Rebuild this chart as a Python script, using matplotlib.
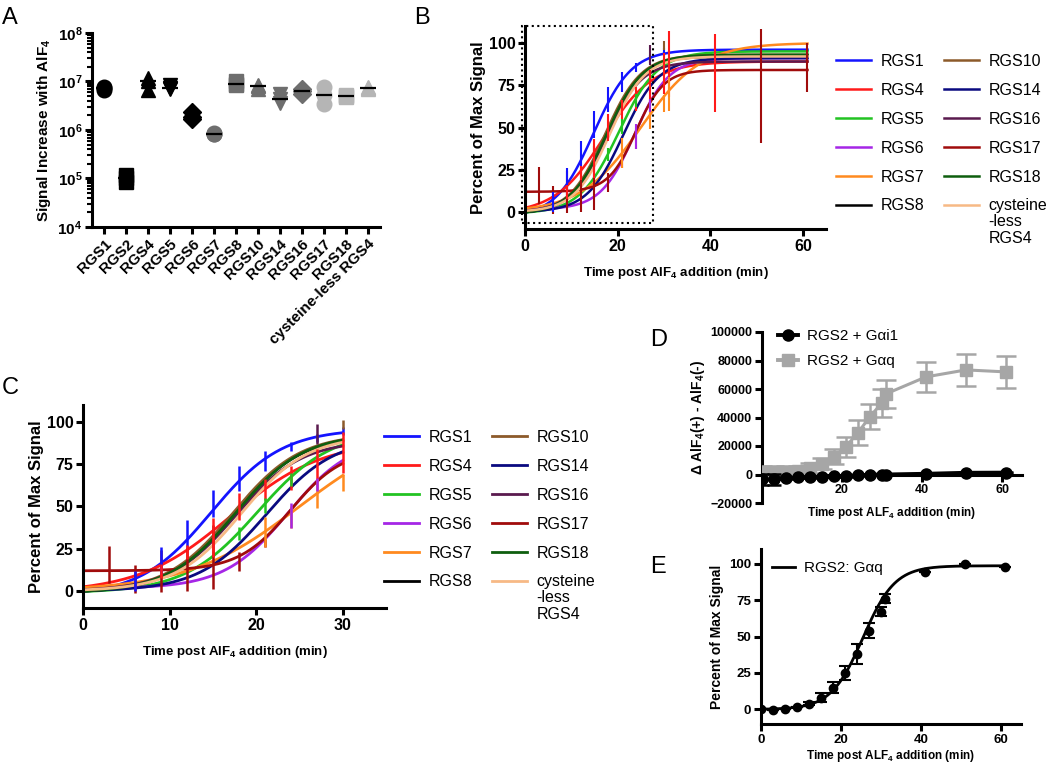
import numpy as np
import matplotlib
matplotlib.use('Agg')
import matplotlib.pyplot as plt
from matplotlib import font_manager as fm
from matplotlib.patches import Rectangle
from matplotlib.lines import Line2D
from matplotlib.ticker import LogLocator, NullFormatter


# pick an Arial-like family that really has a bold face
def pick_family():
    for f in ['Liberation Sans', 'Arimo', 'Roboto', 'Noto Sans', 'Open Sans']:
        try:
            p = fm.findfont(fm.FontProperties(family=f, weight='bold'), fallback_to_default=False)
            if 'bold' in p.lower():
                return f
        except Exception:
            pass
    return 'DejaVu Sans'


FAM = pick_family()
plt.rcParams['font.family'] = [FAM, 'DejaVu Sans']
plt.rcParams['font.weight'] = 'bold'
plt.rcParams['mathtext.fontset'] = 'custom'
plt.rcParams['mathtext.rm'] = FAM + ':bold'
plt.rcParams['mathtext.it'] = FAM + ':bold'
plt.rcParams['mathtext.bf'] = FAM + ':bold'
plt.rcParams['mathtext.default'] = 'rm'

# ---- Panel A: signal increase per RGS (3 replicates) ----
cats_a = ['RGS1', 'RGS2', 'RGS4', 'RGS5', 'RGS6', 'RGS7', 'RGS8', 'RGS10',
          'RGS14', 'RGS16', 'RGS17', 'RGS18', 'cysteine-less RGS4']
rep1 = [6.8e6, 8.5e4, 6.6e6, 7.0e6, 1.7e6, 8.2e5, 8.3e6, 7.0e6, 3.6e6, 5.6e6, 3.5e6, 4.8e6, 7.1e6]
rep2 = [7.3e6, 1.0e5, 1.0e7, 7.3e6, 1.85e6, 8.4e5, 8.9e6, 8.1e6, 4.4e6, 6.3e6, 5.3e6, 5.0e6, 7.4e6]
rep3 = [7.6e6, 1.2e5, 1.2e7, 8.3e6, 2.3e6, 8.6e5, 1.0e7, 8.6e6, 5.5e6, 7.0e6, 7.7e6, 5.3e6, 7.6e6]
markers_a = ['o', 's', '^', 'v', 'D', 'o', 's', '^', 'v', 'D', 'o', 's', '^']
colors_a = ['#000000'] * 5 + ['#6e6e6e'] * 5 + ['#b5b5b5'] * 3

# ---- Panels B/C: sigmoid fits per RGS ----
rgs_names = ['RGS1', 'RGS4', 'RGS5', 'RGS6', 'RGS7', 'RGS8',
             'RGS10', 'RGS14', 'RGS16', 'RGS17', 'RGS18', 'cysteine']
rgs_colors = ['#1414ff', '#ff1a1a', '#22c322', '#a526e6', '#ff8a1f', '#000000',
              '#8c5a2a', '#0a0a80', '#5a1a4e', '#a00c0c', '#0e5e0e', '#f7b985']
fit_bottom = [-3, -1, -1, 1.5, 0, -1, -1, 0, 0, 12, -1, 0]
fit_top = [96, 89, 95, 91, 100, 92, 93, 91, 89, 84, 93, 92]
fit_t50 = [14.8, 17.0, 20.2, 23.7, 25.0, 17.5, 17.3, 21.2, 17.6, 24.0, 17.6, 18.3]
fit_k = [4.1, 5.3, 4.2, 3.7, 6.5, 3.8, 3.9, 3.9, 3.8, 3.0, 3.9, 3.8]

# error bars: series index, time, low, high
eb_series = [9, 9, 9, 9, 9, 9, 9, 9, 9, 9,
             0, 0, 0, 0, 0, 0, 0, 0, 0,
             1, 1, 1, 1, 1, 1, 1, 1, 1, 1, 1,
             2, 2, 2, 4, 4, 4, 4, 4, 3, 3, 8, 6]
eb_time = [0, 3, 6, 9, 12, 15, 18, 21, 51, 61,
           6, 9, 12, 15, 18, 21, 24, 27, 30,
           0, 9, 12, 15, 18, 21, 24, 27, 30, 31, 41,
           18, 21, 24, 21, 24, 27, 30, 31, 24, 27, 27, 30]
eb_lo = [-2, 4.5, -1, -0.5, 0, 1, 12, 26, 41, 71,
         0, 10, 26, 44, 59, 71, 83, 88, 92,
         0, 8, 19, 20, 42, 54, 60, 65, 70, 68, 59,
         30, 46, 62, 26, 37, 49, 59, 60, 37, 59, 87, 96]
eb_hi = [35, 26.5, 15.5, 24.5, 26, 39, 23, 31, 108, 100,
         12, 26, 42, 60, 74, 83, 88, 93, 97,
         8, 16, 27, 43, 58, 66, 74, 84, 94, 107, 105,
         38, 55, 70, 44, 50, 66, 69, 80, 52, 67, 99, 101]

# ---- Panel D: raw delta signal for RGS2 ----
d_time = [0, 3, 6, 9, 12, 15, 18, 21, 24, 27, 30, 31, 41, 51, 61]
gi1_mean = [-3500, -3500, -2500, -2000, -1800, -1600, -1400, -1000, -500, -200, 0, 0, 500, 1200, 1300]
gi1_err = [3700, 3700, 800, 500, 500, 500, 500, 500, 500, 500, 500, 500, 500, 500, 500]
gq_mean = [1000, 1500, 2100, 2800, 4900, 7700, 12600, 19600, 29400, 40600, 50300, 56600, 68500, 73400, 72000]
gq_err = [5000, 4500, 4000, 3500, 3500, 4000, 5000, 7000, 8500, 9000, 10000, 10000, 10500, 11000, 11000]

# ---- Panel E: normalised RGS2:Gaq ----
e_mean = [0, -0.5, 0.5, 1.5, 4, 8, 15, 25, 38, 54, 67, 76, 94, 100, 98]
e_err = [0, 0, 0, 0, 1, 3, 4, 5, 7, 5, 3, 3, 0, 0, 0]
e_fit = dict(bottom=0, top=98.5, t50=25.5, k=4.0)


def logistic(t, bottom, top, t50, k):
    return bottom + (top - bottom) / (1 + np.exp(-(t - t50) / k))


W, H = 1050, 763


def rect(l, t, r, b):
    return [l / W, 1 - b / H, (r - l) / W, (b - t) / H]


def style(ax, size=11):
    for s in ['top', 'right']:
        ax.spines[s].set_visible(False)
    for s in ['left', 'bottom']:
        ax.spines[s].set_linewidth(2.2)
    ax.tick_params(which='major', width=2.2, length=5, labelsize=size, pad=2)
    for lab in ax.get_xticklabels() + ax.get_yticklabels():
        lab.set_fontweight('bold')


def rgs_legend(ax, x, y):
    return ax.legend(loc='upper left', bbox_to_anchor=(x / W, 1 - y / H), bbox_transform=fig.transFigure,
                     ncol=2, frameon=False, borderpad=0, borderaxespad=0, handlelength=2.2,
                     handletextpad=0.6, columnspacing=1.2, labelspacing=0.87,
                     prop={'weight': 'normal', 'size': 11.5})


fig = plt.figure(figsize=(10.5, 7.63), dpi=100)

# panel letters
for letter, x, y in [('A', 2, 24), ('B', 414, 24), ('C', 2, 394), ('D', 650, 346), ('E', 650, 573)]:
    fig.text(x / W, 1 - y / H, letter, fontsize=17, fontweight='normal', va='baseline')

# ---------- A ----------
axA = fig.add_axes(rect(92, 33, 380, 227))
xa = np.arange(len(cats_a))
for i in range(len(cats_a)):
    vals = [rep1[i], rep2[i], rep3[i]]
    ms = 9 if markers_a[i] == 'D' else 10.5
    axA.plot([xa[i]] * 3, vals, ls='none', marker=markers_a[i], ms=ms,
             color=colors_a[i], mec=colors_a[i])
    axA.hlines(np.median(vals), xa[i] - 0.35, xa[i] + 0.35, color='k', lw=1.6, zorder=4)
axA.set_yscale('log')
axA.set_ylim(1e4, 1e8)
axA.set_xlim(-0.55, 12.55)
axA.yaxis.set_major_locator(LogLocator(base=10, numticks=10))
axA.yaxis.set_minor_locator(LogLocator(base=10, subs=np.arange(2, 10), numticks=10))
axA.yaxis.set_minor_formatter(NullFormatter())
axA.set_xticks(xa)
axA.set_xticklabels(cats_a, rotation=45, ha='right', rotation_mode='anchor', fontsize=11)
style(axA, 11)
axA.tick_params(axis='x', labelsize=11)
axA.tick_params(which='minor', width=1.5, length=3.5)
axA.set_ylabel('Signal Increase with AlF$_4$', fontsize=11, fontweight='bold', labelpad=3)

# ---------- B ----------
axB = fig.add_axes(rect(525, 26, 826, 229))
tb = np.linspace(0, 61, 400)
for i in range(len(rgs_names)):
    axB.plot(tb, logistic(tb, fit_bottom[i], fit_top[i], fit_t50[i], fit_k[i]),
             color=rgs_colors[i], lw=1.8, label=rgs_names[i])
axB.vlines(eb_time, eb_lo, eb_hi, colors=[rgs_colors[i] for i in eb_series], lw=1.5)
axB.add_patch(Rectangle((-0.6, -6.5), 28.3, 116.5, fill=False, ls=':', lw=1.5,
                        ec='k', clip_on=False, zorder=5))
axB.set_xlim(0, 65)
axB.set_ylim(-10, 110)
axB.set_xticks([0, 20, 40, 60])
axB.set_yticks([0, 25, 50, 75, 100])
style(axB, 11.5)
axB.set_xlabel('Time post AlF$_4$ addition (min)', fontsize=9.5, fontweight='bold', labelpad=8)
axB.set_ylabel('Percent of Max Signal', fontsize=12, fontweight='bold', labelpad=2)
legB = rgs_legend(axB, 836, 54)

# ---------- C ----------
axC = fig.add_axes(rect(83, 405, 386, 608))
tc = np.linspace(0, 30, 300)
for i in range(len(rgs_names)):
    axC.plot(tc, logistic(tc, fit_bottom[i], fit_top[i], fit_t50[i], fit_k[i]),
             color=rgs_colors[i], lw=2.0, label=rgs_names[i])
c_idx = [j for j in range(len(eb_time)) if eb_time[j] <= 30]
axC.vlines([eb_time[j] for j in c_idx], [eb_lo[j] for j in c_idx], [eb_hi[j] for j in c_idx],
           colors=[rgs_colors[eb_series[j]] for j in c_idx], lw=1.8)
axC.set_xlim(0, 35)
axC.set_ylim(-10, 110)
axC.set_xticks([0, 10, 20, 30])
axC.set_yticks([0, 25, 50, 75, 100])
style(axC, 11.5)
axC.set_xlabel('Time post AlF$_4$ addition (min)', fontsize=9.5, fontweight='bold', labelpad=8)
axC.set_ylabel('Percent of Max Signal', fontsize=12, fontweight='bold', labelpad=2)
legC = rgs_legend(axC, 384, 430)

# ---------- D ----------
axD = fig.add_axes(rect(762, 332, 1022, 503))
axD.spines['bottom'].set_position(('data', 0))
axD.errorbar(d_time, gq_mean, yerr=gq_err, color='#a6a6a6', marker='s', ms=8, lw=2.2,
             elinewidth=1.8, capsize=7, capthick=1.8, zorder=3)
axD.errorbar(d_time, gi1_mean, yerr=gi1_err, color='k', marker='o', ms=8, lw=2.8,
             elinewidth=1.8, capsize=5, capthick=1.8, zorder=4)
axD.set_xlim(0, 65)
axD.set_ylim(-20000, 100000)
axD.set_xticks([20, 40, 60])
axD.set_yticks(np.arange(-20000, 100001, 20000))
style(axD, 9)
axD.set_xlabel('Time post ALF$_4$ addition (min)', fontsize=8.5, fontweight='bold', labelpad=3)
axD.xaxis.set_label_coords(0.5, -0.01)
axD.set_ylabel('\u0394 AlF$_4$(+) - AlF$_4$(-)', fontsize=10, fontweight='bold', labelpad=2)
d_handles = [Line2D([], [], color='k', marker='o', ms=8, lw=2.8),
             Line2D([], [], color='#a6a6a6', marker='s', ms=8, lw=2.8)]
axD.legend(d_handles, ['RGS2 + G\u03b1i1', 'RGS2 + G\u03b1q'], loc='upper left',
           bbox_to_anchor=(778 / W, 1 - 329 / H), bbox_transform=fig.transFigure,
           frameon=False, borderpad=0, borderaxespad=0, handlelength=1.3,
           handletextpad=0.6, labelspacing=0.75, prop={'weight': 'normal', 'size': 11})

# ---------- E ----------
axE = fig.add_axes(rect(761, 549, 1021, 724))
te = np.linspace(0, 61, 400)
axE.plot(te, logistic(te, **e_fit), color='k', lw=2)
axE.errorbar(d_time, e_mean, yerr=e_err, color='k', marker='o', ms=6, ls='none',
             elinewidth=1.5, capsize=4, capthick=1.5)
axE.set_xlim(0, 65)
axE.set_ylim(-10, 110)
axE.set_xticks([0, 20, 40, 60])
axE.set_yticks([0, 25, 50, 75, 100])
style(axE, 9.5)
axE.set_xlabel('Time post ALF$_4$ addition (min)', fontsize=8.5, fontweight='bold', labelpad=2)
axE.set_ylabel('Percent of Max Signal', fontsize=10, fontweight='bold', labelpad=4)
axE.legend([Line2D([], [], color='k', lw=2)], ['RGS2: G\u03b1q'], loc='upper left',
           bbox_to_anchor=(772 / W, 1 - 561 / H), bbox_transform=fig.transFigure,
           frameon=False, borderpad=0, borderaxespad=0, handlelength=1.5,
           handletextpad=0.6, prop={'weight': 'normal', 'size': 11})

# second and third line of the wrapped "cysteine-less RGS4" legend label
fig.canvas.draw()
for leg in (legB, legC):
    bb = leg.get_texts()[-1].get_window_extent()
    fig.text(bb.x0 / W, (bb.y0 - 1) / H, '-less\nRGS4', ha='left', va='top',
             fontsize=11.5, fontweight='normal', linespacing=1.15)

fig.savefig('out.png', dpi=100)
